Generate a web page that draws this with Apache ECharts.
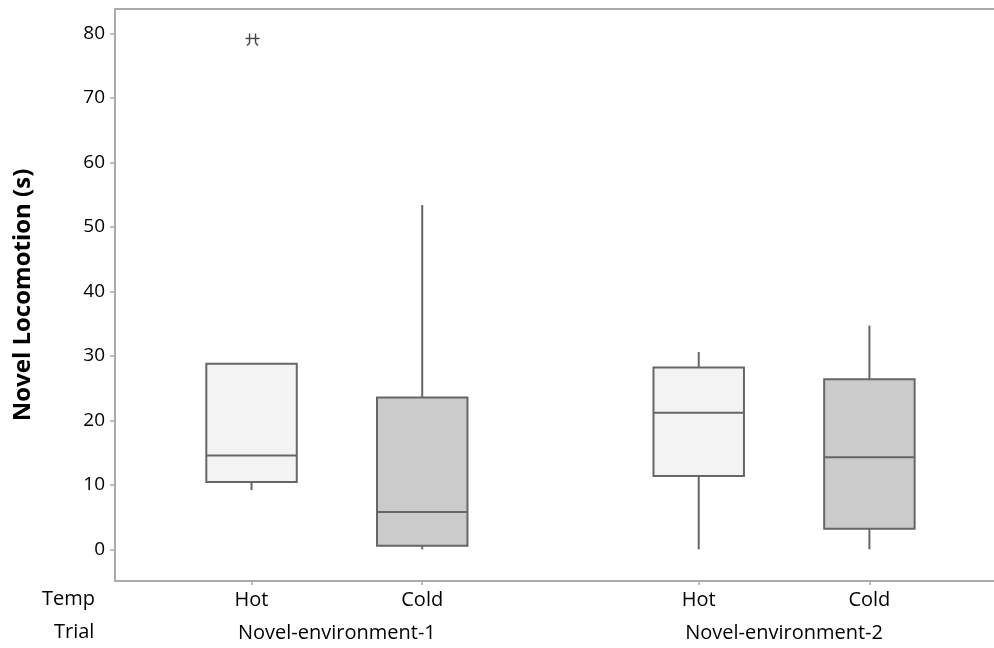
<!DOCTYPE html>
<html><head><meta charset="utf-8">
<script src="https://cdn.jsdelivr.net/npm/echarts@6/dist/echarts.min.js"></script>
<style>html,body{margin:0;padding:0;background:#fff}#c{width:994px;height:648px}</style>
</head><body><div id="c"></div>
<script>
// ---- data ----
const tempLabels = ['Hot', 'Cold', 'Hot', 'Cold'];
const trialLabels = ['Novel-environment-1', 'Novel-environment-2'];
const xPositions = [1, 2, 3.62, 4.62];
const trialPositions = [1.5, 4.12];
// [lower whisker, Q1, median, Q3, upper whisker]
const boxStats = [
  [9.2, 10.45, 14.55, 28.8, 28.8],
  [0, 0.57, 5.8, 23.55, 53.4],
  [0, 11.4, 21.2, 28.2, 30.6],
  [0, 3.2, 14.3, 26.4, 34.7]
];
const outlierGroup = [0];
const outlierValues = [79.0];
const yTicks = [0, 10, 20, 30, 40, 50, 60, 70, 80];

const FONT = 'Open Sans';
const TXT = '#000';
const fills = { Hot: '#f3f3f3', Cold: '#cbcbcb' };
const boxData = boxStats.map((s, i) => [xPositions[i], ...s, i]);
const outData = outlierValues.map((v, i) => [xPositions[outlierGroup[i]], v]);

const axisLineStyle = { color: '#ababab', width: 2 };
const chart = echarts.init(document.getElementById('c'), null, { renderer: 'canvas' });
chart.setOption({
  animation: false,
  backgroundColor: '#fff',
  grid: { left: 115, right: 0, top: 9, bottom: 67, containLabel: false },
  xAxis: [
    {
      type: 'value', min: 0.2, max: 5.35, position: 'bottom',
      axisLine: { show: true, onZero: false, lineStyle: axisLineStyle },
      axisTick: { show: true, length: 4, customValues: xPositions, lineStyle: { color: '#ababab', width: 1.5 } },
      axisLabel: {
        customValues: xPositions, margin: 9, fontFamily: FONT, fontSize: 20, color: TXT,
        formatter: v => tempLabels[xPositions.indexOf(v)]
      },
      splitLine: { show: false }
    },
    {
      type: 'value', min: 0.2, max: 5.35, position: 'bottom', offset: 33,
      axisLine: { show: false, onZero: false }, axisTick: { show: false },
      axisLabel: {
        customValues: trialPositions, margin: 9, fontFamily: FONT, fontSize: 20, color: TXT,
        formatter: v => trialLabels[trialPositions.indexOf(v)]
      },
      splitLine: { show: false }
    },
    {
      type: 'value', min: 0.2, max: 5.35, position: 'top',
      axisLine: { show: true, onZero: false, lineStyle: axisLineStyle },
      axisTick: { show: false }, axisLabel: { show: false }, splitLine: { show: false }
    }
  ],
  yAxis: {
    type: 'value', min: -4.9, max: 83.8,
    name: 'Novel Locomotion (s)', nameLocation: 'middle', nameGap: 80,
    nameTextStyle: { fontFamily: FONT, fontSize: 24, fontWeight: 'bold', color: '#000' },
    axisLine: { show: true, onZero: false, lineStyle: axisLineStyle },
    axisTick: { show: true, length: 5, customValues: yTicks, lineStyle: { color: '#ababab', width: 1.5 } },
    axisLabel: { customValues: yTicks, margin: 10, fontFamily: FONT, fontSize: 19, color: TXT },
    splitLine: { show: false }
  },
  graphic: [
    { type: 'text', left: 42, top: 589, style: { text: 'Temp', font: '20px "Open Sans"', fill: TXT } },
    { type: 'text', left: 54, top: 622, style: { text: 'Trial', font: '20px "Open Sans"', fill: TXT } }
  ],
  series: [
    {
      type: 'custom', xAxisIndex: 0,
      data: boxData,
      encode: { x: 0, y: [1, 2, 3, 4, 5] },
      renderItem: function (params, api) {
        const x = api.value(0);
        const idx = api.value(6);
        const pLo = api.coord([x, api.value(1)]);
        const pQ1 = api.coord([x, api.value(2)]);
        const pMed = api.coord([x, api.value(3)]);
        const pQ3 = api.coord([x, api.value(4)]);
        const pHi = api.coord([x, api.value(5)]);
        const w = api.size([0.53, 0])[0];
        const half = w / 2;
        const stroke = { stroke: '#666', lineWidth: 2 };
        return {
          type: 'group',
          children: [
            { type: 'line', shape: { x1: pHi[0], y1: pHi[1], x2: pQ3[0], y2: pQ3[1] }, style: stroke },
            { type: 'line', shape: { x1: pQ1[0], y1: pQ1[1], x2: pLo[0], y2: pLo[1] }, style: stroke },
            { type: 'rect', shape: { x: pQ3[0] - half, y: pQ3[1], width: w, height: pQ1[1] - pQ3[1] },
              style: { fill: fills[tempLabels[idx]], stroke: '#666', lineWidth: 2 } },
            { type: 'line', shape: { x1: pMed[0] - half, y1: pMed[1], x2: pMed[0] + half, y2: pMed[1] }, style: stroke }
          ]
        };
      }
    },
    {
      type: 'custom', xAxisIndex: 0,
      data: outData,
      encode: { x: 0, y: 1 },
      renderItem: function (params, api) {
        const p = api.coord([api.value(0), api.value(1)]);
        const cx = p[0] + 1, cy = p[1] - 1.5;
        const s = { stroke: '#444', lineWidth: 1.4 };
        return {
          type: 'group',
          children: [
            { type: 'line', shape: { x1: cx - 7, y1: cy, x2: cx + 7, y2: cy }, style: s },
            { type: 'line', shape: { x1: cx - 3, y1: cy - 5, x2: cx - 3, y2: cy + 4.5 }, style: s },
            { type: 'line', shape: { x1: cx + 3, y1: cy - 5, x2: cx + 3, y2: cy + 4.5 }, style: s },
            { type: 'line', shape: { x1: cx - 3, y1: cy + 4.5, x2: cx - 5.5, y2: cy + 7 }, style: s },
            { type: 'line', shape: { x1: cx + 3, y1: cy + 4.5, x2: cx + 5.5, y2: cy + 7 }, style: s }
          ]
        };
      }
    }
  ]
});
</script></body></html>
